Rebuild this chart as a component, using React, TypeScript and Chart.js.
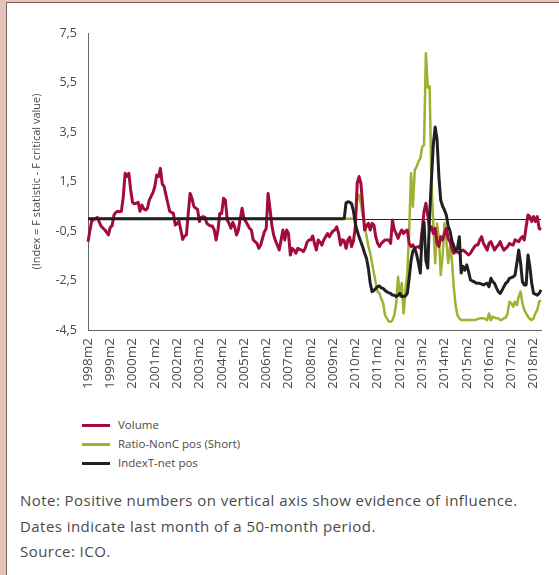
import React, { useEffect, useRef } from "react";
import { Chart, registerables } from "chart.js";

Chart.register(...registerables);

// ---- categories: monthly, 1998m2 .. 2018m6 ----
const START_YEAR = 1998;
const N_MONTHS = 245;
const months: string[] = [];
for (let i = 0; i < N_MONTHS; i++) {
  const m = ((i + 1) % 12) + 1;
  const y = START_YEAR + Math.floor((i + 1) / 12);
  months.push(`${y}m${m}`);
}

// every 12th month gets a tick label (the "m2" months)
const xTickLabels = [
  "1998m2", "1999m2", "2000m2", "2001m2", "2002m2", "2003m2", "2004m2",
  "2005m2", "2006m2", "2007m2", "2008m2", "2009m2", "2010m2", "2011m2",
  "2012m2", "2013m2", "2014m2", "2015m2", "2016m2", "2017m2", "2018m2",
];

const yTicks = [-4.5, -2.5, -0.5, 1.5, 3.5, 5.5, 7.5];

// ---- series (each row = 12 months starting at February) ----
const volume = [
  -0.93, -0.5, -0.1, -0.05, 0.0, 0.05, -0.12, -0.3, -0.38, -0.45, -0.55, -0.66,
  -0.35, -0.28, 0.15, 0.25, 0.3, 0.28, 0.3, 0.89, 1.83, 1.7, 1.83, 1.16,
  0.65, 0.6, 0.62, 0.66, 0.3, 0.55, 0.4, 0.35, 0.41, 0.75, 0.9, 1.05,
  1.3, 1.76, 1.7, 2.03, 1.4, 1.3, 0.95, 0.62, 0.3, 0.25, 0.21, -0.26,
  -0.2, -0.1, -0.46, -0.84, -0.7, -0.66, 0.21, 1.02, 0.82, 0.5, 0.42, 0.38,
  -0.12, 0.05, 0.08, 0.05, -0.19, -0.25, -0.3, -0.3, -0.46, -0.86, -0.46, 0.21,
  0.21, 0.82, 0.75, -0.06, -0.2, -0.39, -0.15, -0.33, -0.66, -0.46, 0.0, 0.42,
  0.0, -0.12, -0.25, -0.39, -0.46, -0.86, -0.93, -1.0, -1.2, -1.07, -0.8, -0.53,
  -0.4, 1.02, 0.42, -0.26, -0.66, -0.9, -1.07, -1.27, -0.86, -0.46, -0.86, -0.46,
  -0.6, -1.47, -1.2, -1.27, -1.4, -1.2, -1.25, -1.27, -1.33, -1.2, -0.95, -0.86,
  -0.86, -0.7, -1.0, -1.27, -0.86, -0.95, -1.07, -0.86, -0.73, -0.6, -0.73, -0.6,
  -0.5, -0.46, -0.33, -0.6, -1.07, -0.86, -0.9, -1.2, -0.86, -0.75, -1.13, -0.9,
  -0.33, 1.43, 1.7, 1.43, 0.48, -0.46, -0.3, -0.19, -0.46, -0.19, -0.26, -0.73,
  -1.0, -1.13, -1.0, -0.93, -0.86, -0.86, -0.86, -1.0, -0.06, -0.46, -0.6, -0.8,
  -0.6, -0.46, -0.6, -0.5, -0.46, -1.0, -1.13, -1.06, -1.2, -1.15, -1.13, -1.2,
  -0.46, 0.28, 0.62, 0.14, -0.46, -0.33, -0.6, -0.4, -1.0, -1.13, -0.73, -0.86,
  -0.6, -0.39, -0.8, -0.93, -1.2, -1.4, -1.33, -1.35, -1.4, -1.3, -1.27, -1.33,
  -1.4, -1.47, -1.4, -1.27, -1.15, -1.07, -1.07, -0.86, -0.73, -1.0, -1.13, -1.27,
  -1.0, -0.93, -1.1, -1.27, -1.15, -1.07, -0.93, -1.13, -1.27, -1.2, -1.13, -1.0,
  -1.05, -1.07, -0.86, -0.9, -0.93, -0.8, -0.73, -0.86, -0.33, 0.15, 0.08, -0.12,
  0.08, -0.12, 0.08, -0.39, -0.45,
];

const ratioNonC = [
  0, 0, 0, 0, 0, 0, 0, 0, 0, 0, 0, 0,
  0, 0, 0, 0, 0, 0, 0, 0, 0, 0, 0, 0,
  0, 0, 0, 0, 0, 0, 0, 0, 0, 0, 0, 0,
  0, 0, 0, 0, 0, 0, 0, 0, 0, 0, 0, 0,
  0, 0, 0, 0, 0, 0, 0, 0, 0, 0, 0, 0,
  0, 0, 0, 0, 0, 0, 0, 0, 0, 0, 0, 0,
  0, 0, 0, 0, 0, 0, 0, 0, 0, 0, 0, 0,
  0, 0, 0, 0, 0, 0, 0, 0, 0, 0, 0, 0,
  0, 0, 0, 0, 0, 0, 0, 0, 0, 0, 0, 0,
  0, 0, 0, 0, 0, 0, 0, 0, 0, 0, 0, 0,
  0, 0, 0, 0, 0, 0, 0, 0, 0, 0, 0, 0,
  0, 0, 0, 0, 0, 0, 0, 0, 0, 0, 0, 0,
  0.1, 0.75, 0.95, 0.6, 0.1, -0.3, -0.7, -1.1, -1.4, -1.8, -2.2, -2.6,
  -2.95, -3.02, -3.25, -3.42, -3.9, -4.03, -4.15, -4.17, -4.1, -3.9, -3.42, -2.35,
  -3.15, -2.6, -3.83, -2.9, -2.2, -0.5, 1.83, 0.48, 1.96, 2.1, 2.3, 2.43,
  2.9, 2.97, 6.68, 5.3, 5.35, 1.5, -0.2, -1.8, -0.2, -0.8, -2.28, -1.5,
  -0.19, -0.86, -1.8, -1.13, -1.67, -2.75, -3.5, -3.9, -4.03, -4.1, -4.1, -4.1,
  -4.1, -4.1, -4.1, -4.1, -4.1, -4.08, -4.05, -4.03, -4.03, -4.03, -4.05, -4.1,
  -3.83, -4.1, -3.96, -4.0, -4.03, -4.03, -4.1, -4.08, -4.03, -4.0, -3.83, -3.36,
  -3.42, -3.56, -3.36, -3.5, -3.15, -2.95, -3.42, -3.69, -3.83, -3.96, -4.05, -4.1,
  -4.03, -3.83, -3.69, -3.36, -3.3,
];

const indexTNet = [
  0, 0, 0, 0, 0, 0, 0, 0, 0, 0, 0, 0,
  0, 0, 0, 0, 0, 0, 0, 0, 0, 0, 0, 0,
  0, 0, 0, 0, 0, 0, 0, 0, 0, 0, 0, 0,
  0, 0, 0, 0, 0, 0, 0, 0, 0, 0, 0, 0,
  0, 0, 0, 0, 0, 0, 0, 0, 0, 0, 0, 0,
  0, 0, 0, 0, 0, 0, 0, 0, 0, 0, 0, 0,
  0, 0, 0, 0, 0, 0, 0, 0, 0, 0, 0, 0,
  0, 0, 0, 0, 0, 0, 0, 0, 0, 0, 0, 0,
  0, 0, 0, 0, 0, 0, 0, 0, 0, 0, 0, 0,
  0, 0, 0, 0, 0, 0, 0, 0, 0, 0, 0, 0,
  0, 0, 0, 0, 0, 0, 0, 0, 0, 0, 0, 0,
  0, 0, 0, 0, 0, 0, 0, 0.64, 0.68, 0.66, 0.6, 0.3,
  -0.2, -0.5, -0.73, -0.95, -1.15, -1.4, -1.6, -2.0, -2.6, -2.95, -2.9, -2.82,
  -2.75, -2.72, -2.8, -2.82, -2.9, -2.95, -3.0, -3.02, -3.09, -3.1, -3.15, -3.1,
  -3.02, -3.15, -3.15, -3.12, -3.02, -2.4, -1.7, -1.3, -1.2, -1.45, -1.8, -2.2,
  -0.6, -0.15, -1.7, -2.0, 0.1, 1.6, 3.0, 3.7, 3.2, 1.7, 0.75, 0.5,
  0.35, 0.15, -0.3, -0.5, -0.9, -1.1, -1.3, -1.2, -0.73, -2.2, -1.93, -2.08,
  -1.87, -2.14, -2.48, -2.52, -2.55, -2.6, -2.61, -2.61, -2.65, -2.68, -2.64, -2.61,
  -2.75, -2.41, -2.55, -2.62, -2.8, -2.95, -3.02, -2.9, -2.75, -2.61, -2.55, -2.41,
  -2.38, -2.35, -2.28, -1.8, -1.27, -1.8, -2.55, -2.68, -2.68, -1.47, -1.93, -2.61,
  -3.02, -3.05, -3.09, -3.02, -2.88,
];

const seriesNames = ["Volume", "Ratio-NonC pos (Short)", "IndexT-net pos"];
const seriesColors = ["#a20b3b", "#a1b031", "#231f20"];

const FONT = "'Open Sans', 'DejaVu Sans', sans-serif";
const TEXT = "#4a4a4a";

const zeroLine = {
  id: "zeroLine",
  beforeDatasetsDraw(chart: any) {
    const { ctx, chartArea, scales } = chart;
    const y = scales.y.getPixelForValue(0);
    ctx.save();
    ctx.strokeStyle = "#231f20";
    ctx.lineWidth = 1;
    ctx.beginPath();
    ctx.moveTo(chartArea.left, Math.round(y) + 0.5);
    ctx.lineTo(chartArea.right, Math.round(y) + 0.5);
    ctx.stroke();
    ctx.restore();
  },
};

export default function App() {
  const ref = useRef<HTMLCanvasElement>(null);

  useEffect(() => {
    if (!ref.current) return;
    const chart = new Chart(ref.current, {
      type: "line",
      data: {
        labels: months,
        datasets: [
          {
            label: seriesNames[0],
            data: volume,
            borderColor: seriesColors[0],
            borderWidth: 3,
            borderJoinStyle: "round",
            order: 2,
          },
          {
            label: seriesNames[1],
            data: ratioNonC,
            borderColor: seriesColors[1],
            borderWidth: 2.5,
            borderJoinStyle: "round",
            order: 3,
          },
          {
            label: seriesNames[2],
            data: indexTNet,
            borderColor: seriesColors[2],
            borderWidth: 3,
            borderJoinStyle: "round",
            order: 1,
          },
        ],
      },
      options: {
        animation: false,
        responsive: false,
        maintainAspectRatio: false,
        layout: { padding: { left: 25, right: 18, top: 33, bottom: 0 } },
        plugins: { legend: { display: false }, tooltip: { enabled: false } },
        elements: { point: { radius: 0 }, line: { tension: 0 } },
        scales: {
          x: {
            type: "category",
            offset: false,
            grid: { display: false, drawTicks: false },
            border: { display: true, color: "#666", width: 1 },
            ticks: {
              autoSkip: false,
              maxRotation: 90,
              minRotation: 90,
              padding: 8,
              color: TEXT,
              font: { family: FONT, size: 13.5 },
              callback: (_v: any, idx: number) =>
                xTickLabels.includes(months[idx]) ? months[idx] : null,
            },
            afterFit: (s: any) => {
              s.height = 70;
            },
          },
          y: {
            min: yTicks[0],
            max: yTicks[yTicks.length - 1],
            grid: { display: false, drawTicks: false },
            border: { display: true, color: "#666", width: 1 },
            ticks: {
              stepSize: 2,
              padding: 11,
              color: TEXT,
              font: { family: FONT, size: 12.5 },
              callback: (v: any) => Number(v).toFixed(1).replace(".", ","),
            },
            title: {
              display: true,
              text: "(Index = F statistic - F critical value)",
              color: TEXT,
              font: { family: FONT, size: 11 },
              padding: { top: 5, bottom: 0 },
            },
            afterFit: (s: any) => {
              s.width = 63;
            },
          },
        },
      },
      plugins: [zeroLine],
    });
    return () => chart.destroy();
  }, []);

  const legendTops = [425, 444, 463];

  return (
    <div
      style={{
        position: "fixed",
        left: 0,
        top: 0,
        width: 559,
        height: 575,
        background: "#e9c3b9",
        overflow: "hidden",
        fontFamily: FONT,
      }}
    >
      <div
        style={{
          position: "absolute",
          left: 6,
          top: 2,
          width: 600,
          height: 620,
          background: "#ffffff",
          borderLeft: "1px solid #7a625d",
          borderTop: "1px solid #7a625d",
        }}
      />
      <canvas
        ref={ref}
        width={559}
        height={400}
        style={{ position: "absolute", left: 0, top: 0, width: 559, height: 400 }}
      />
      {seriesNames.map((name, i) => (
        <React.Fragment key={name}>
          <div
            style={{
              position: "absolute",
              left: 82,
              top: legendTops[i] - 1.5,
              width: 28,
              height: 3,
              background: seriesColors[i],
            }}
          />
          <div
            style={{
              position: "absolute",
              left: 118,
              top: legendTops[i] - 9,
              height: 18,
              lineHeight: "18px",
              fontSize: 11.5,
              color: TEXT,
              whiteSpace: "nowrap",
            }}
          >
            {name}
          </div>
        </React.Fragment>
      ))}
      <div
        style={{
          position: "absolute",
          left: 20,
          top: 488,
          fontSize: 15,
          letterSpacing: "0.45px",
          lineHeight: "25.5px",
          color: TEXT,
          whiteSpace: "nowrap",
        }}
      >
        <div>Note: Positive numbers on vertical axis show evidence of influence.</div>
        <div>Dates indicate last month of a 50-month period.</div>
        <div>Source: ICO.</div>
      </div>
    </div>
  );
}
